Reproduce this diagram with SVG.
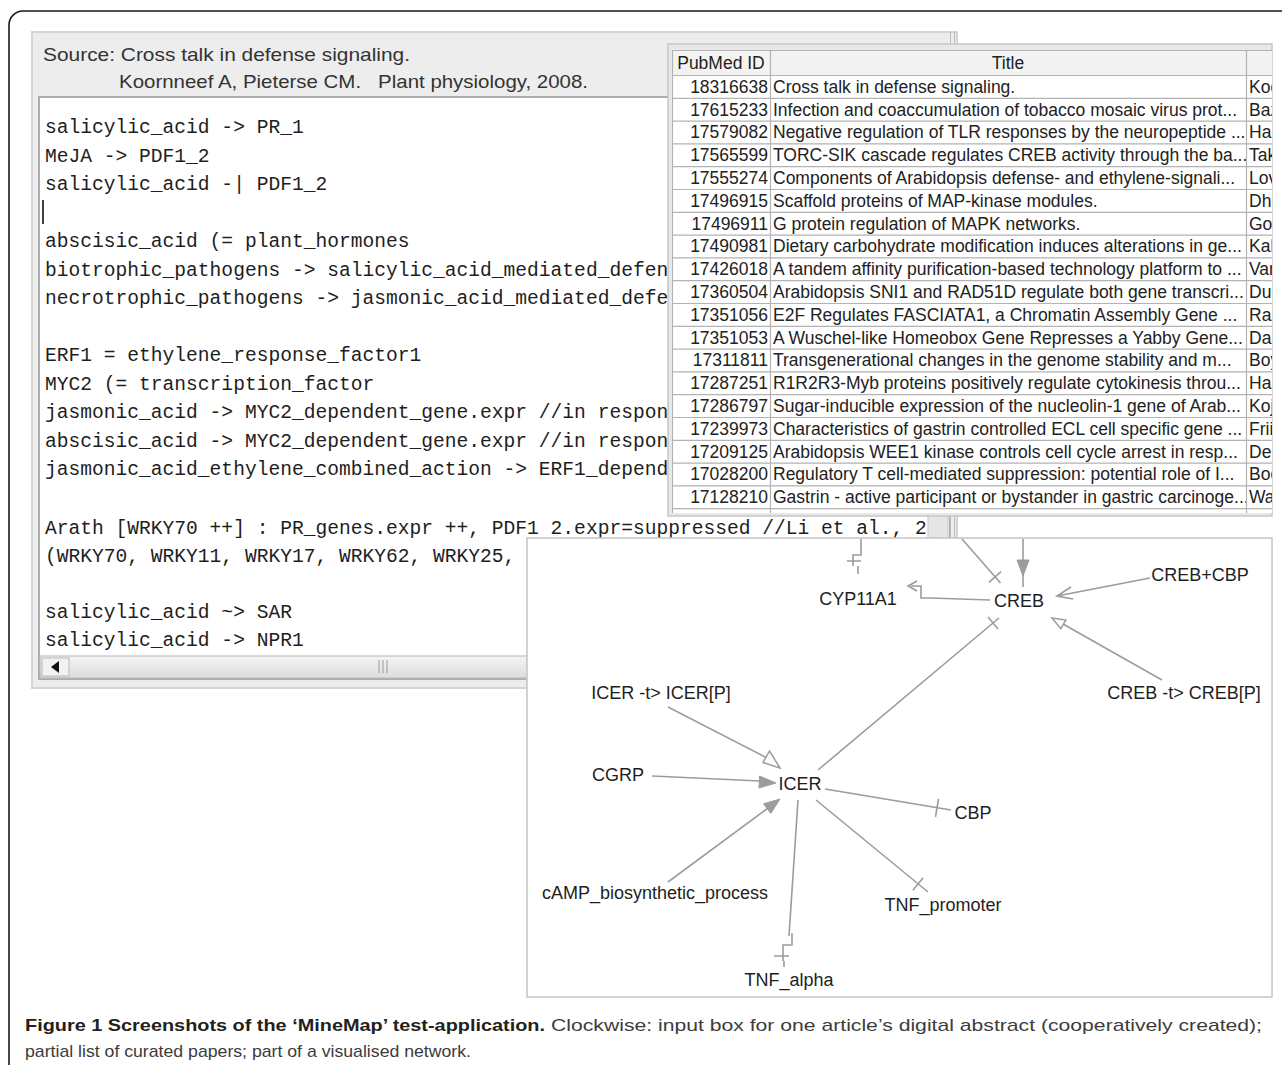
<svg xmlns="http://www.w3.org/2000/svg" width="1282" height="1065" viewBox="0 0 1282 1065">
<style>
.hdr{font-family:"Liberation Sans",Arial,sans-serif;font-size:18.5px;fill:#333}
.code{font-family:"Liberation Mono","Courier New",monospace;font-size:19.6px;fill:#1e1e1e}
.tb{font-family:"Liberation Sans",Arial,sans-serif;font-size:17.5px;fill:#222}
.id{text-anchor:end}
.gl{stroke:#b3b3b3;stroke-width:1.2}
.lbl{font-family:"Liberation Sans",Arial,sans-serif;font-size:18px;fill:#1e1e1e;text-anchor:middle}
.e{fill:none;stroke:#9c9c9c;stroke-width:1.6}
.fa{fill:#9c9c9c;stroke:#9c9c9c;stroke-width:1}
.oa{fill:#fff;stroke:#9c9c9c;stroke-width:1.5}
.capb{font-family:"Liberation Sans",Arial,sans-serif;font-size:17px;font-weight:bold;fill:#231f20}
.capr{font-family:"Liberation Sans",Arial,sans-serif;font-size:17px;fill:#3c3c3c}
</style>
<defs>
<clipPath id="ta"><rect x="40" y="99" width="888" height="556"/></clipPath>
<clipPath id="tbl"><rect x="672" y="50" width="600" height="463"/></clipPath>
<clipPath id="c2"><rect x="771" y="50" width="475" height="463"/></clipPath>
<linearGradient id="sb" x1="0" y1="0" x2="0" y2="1"><stop offset="0" stop-color="#f4f4f4"/><stop offset="1" stop-color="#dcdcdc"/></linearGradient>
</defs>
<rect width="1282" height="1065" fill="#fff"/>

<!-- outer figure border -->
<path d="M9,1065 V25 A14,14 0 0 1 23,11 H1282" fill="none" stroke="#1a1a1a" stroke-width="1.6"/>

<!-- left editor window -->
<g id="editor">
<rect x="32" y="32" width="925" height="656" fill="#ededed" stroke="#d4d4d4" stroke-width="2"/>
<text class="hdr" x="43" y="61" textLength="367" lengthAdjust="spacingAndGlyphs">Source: Cross talk in defense signaling.</text>
<text class="hdr" x="119" y="88" textLength="469" lengthAdjust="spacingAndGlyphs" xml:space="preserve">Koornneef A, Pieterse CM.   Plant physiology, 2008.</text>
<rect x="39" y="97" width="911" height="582" fill="#fff" stroke="#9a9a9a" stroke-width="1.6"/>
<rect x="928" y="99" width="20" height="557" fill="#e6e6e6" stroke="#c4c4c4" stroke-width="1"/>
<line x1="950.5" y1="32" x2="950.5" y2="688" stroke="#bdbdbd" stroke-width="1"/>
<line x1="954.5" y1="32" x2="954.5" y2="688" stroke="#bdbdbd" stroke-width="1"/>
<g clip-path="url(#ta)">
<text class="code" x="45" y="133">salicylic_acid -&gt; PR_1</text>
<text class="code" x="45" y="161.5">MeJA -&gt; PDF1_2</text>
<text class="code" x="45" y="190">salicylic_acid -| PDF1_2</text>
<line x1="43" y1="200" x2="43" y2="224" stroke="#111" stroke-width="1.6"/>
<text class="code" x="45" y="247">abscisic_acid (= plant_hormones</text>
<text class="code" x="45" y="275.5">biotrophic_pathogens -&gt; salicylic_acid_mediated_defen</text>
<text class="code" x="45" y="304">necrotrophic_pathogens -&gt; jasmonic_acid_mediated_defe</text>
<text class="code" x="45" y="361">ERF1 = ethylene_response_factor1</text>
<text class="code" x="45" y="389.5">MYC2 (= transcription_factor</text>
<text class="code" x="45" y="418">jasmonic_acid -&gt; MYC2_dependent_gene.expr //in respon</text>
<text class="code" x="45" y="446.5">abscisic_acid -&gt; MYC2_dependent_gene.expr //in respon</text>
<text class="code" x="45" y="475">jasmonic_acid_ethylene_combined_action -&gt; ERF1_depend</text>
<text class="code" x="45" y="534">Arath [WRKY70 ++] : PR_genes.expr ++, PDF1 2.expr=suppressed //Li et al., 2</text>
<text class="code" x="45" y="561.5">(WRKY70, WRKY11, WRKY17, WRKY62, WRKY25,</text>
<text class="code" x="45" y="617.5">salicylic_acid ~&gt; SAR</text>
<text class="code" x="45" y="646">salicylic_acid -&gt; NPR1</text>
</g>
<rect x="40" y="656" width="888" height="22" fill="url(#sb)" stroke="#b8b8b8" stroke-width="1"/>
<rect x="42" y="658" width="27" height="18" fill="#f2f2f2" stroke="#b8b8b8" stroke-width="1"/>
<path d="M51,667 L59,661 L59,673 Z" fill="#111"/>
<path d="M379,660 V673 M383,660 V673 M387,660 V673" stroke="#9a9a9a" stroke-width="1"/>
</g>

<!-- papers table window -->
<g id="papers">
<rect x="668" y="44" width="604" height="472" fill="#e8e8e8" stroke="#c6c6c6" stroke-width="1.5"/>
<rect x="672" y="50" width="600" height="463" fill="#fff"/>
<rect x="672" y="50" width="600" height="25.5" fill="#f3f3f3"/>
<g clip-path="url(#tbl)">
<path class="gl" d="M672,50.5 H1272 M672,75.5 H1272 M672,98.3 H1272 M672,121.1 H1272 M672,143.9 H1272 M672,166.7 H1272 M672,189.5 H1272 M672,212.3 H1272 M672,235.1 H1272 M672,257.9 H1272 M672,280.7 H1272 M672,303.5 H1272 M672,326.3 H1272 M672,349.1 H1272 M672,371.9 H1272 M672,394.7 H1272 M672,417.5 H1272 M672,440.3 H1272 M672,463.1 H1272 M672,485.9 H1272 M672,508.7 H1272 M672.5,50 V516 M770.5,50 V516 M1246.5,50 V516"/>
<text class="tb" x="721" y="69" text-anchor="middle">PubMed ID</text>
<text class="tb" x="1008" y="69" text-anchor="middle">Title</text>
<g class="tb id">
<text x="768" y="92.8">18316638</text>
<text x="768" y="115.6">17615233</text>
<text x="768" y="138.4">17579082</text>
<text x="768" y="161.2">17565599</text>
<text x="768" y="184">17555274</text>
<text x="768" y="206.8">17496915</text>
<text x="768" y="229.6">17496911</text>
<text x="768" y="252.4">17490981</text>
<text x="768" y="275.2">17426018</text>
<text x="768" y="298">17360504</text>
<text x="768" y="320.8">17351056</text>
<text x="768" y="343.6">17351053</text>
<text x="768" y="366.4">17311811</text>
<text x="768" y="389.2">17287251</text>
<text x="768" y="412">17286797</text>
<text x="768" y="434.8">17239973</text>
<text x="768" y="457.6">17209125</text>
<text x="768" y="480.4">17028200</text>
<text x="768" y="503.2">17128210</text>
</g>
<g class="tb" clip-path="url(#c2)">
<text x="773" y="92.8">Cross talk in defense signaling.</text>
<text x="773" y="115.6">Infection and coaccumulation of tobacco mosaic virus prot...</text>
<text x="773" y="138.4">Negative regulation of TLR responses by the neuropeptide ...</text>
<text x="773" y="161.2">TORC-SIK cascade regulates CREB activity through the ba...</text>
<text x="773" y="184">Components of Arabidopsis defense- and ethylene-signali...</text>
<text x="773" y="206.8">Scaffold proteins of MAP-kinase modules.</text>
<text x="773" y="229.6">G protein regulation of MAPK networks.</text>
<text x="773" y="252.4">Dietary carbohydrate modification induces alterations in ge...</text>
<text x="773" y="275.2">A tandem affinity purification-based technology platform to ...</text>
<text x="773" y="298">Arabidopsis SNI1 and RAD51D regulate both gene transcri...</text>
<text x="773" y="320.8">E2F Regulates FASCIATA1, a Chromatin Assembly Gene ...</text>
<text x="773" y="343.6">A Wuschel-like Homeobox Gene Represses a Yabby Gene...</text>
<text x="773" y="366.4">Transgenerational changes in the genome stability and m...</text>
<text x="773" y="389.2">R1R2R3-Myb proteins positively regulate cytokinesis throu...</text>
<text x="773" y="412">Sugar-inducible expression of the nucleolin-1 gene of Arab...</text>
<text x="773" y="434.8">Characteristics of gastrin controlled ECL cell specific gene ...</text>
<text x="773" y="457.6">Arabidopsis WEE1 kinase controls cell cycle arrest in resp...</text>
<text x="773" y="480.4">Regulatory T cell-mediated suppression: potential role of I...</text>
<text x="773" y="503.2">Gastrin - active participant or bystander in gastric carcinoge...</text>
</g>
<g class="tb">
<text x="1249" y="92.8">Koo</text>
<text x="1249" y="115.6">Baz</text>
<text x="1249" y="138.4">Ha</text>
<text x="1249" y="161.2">Tak</text>
<text x="1249" y="184">Lov</text>
<text x="1249" y="206.8">Dh</text>
<text x="1249" y="229.6">Go</text>
<text x="1249" y="252.4">Kal</text>
<text x="1249" y="275.2">Var</text>
<text x="1249" y="298">Du</text>
<text x="1249" y="320.8">Ra</text>
<text x="1249" y="343.6">Da</text>
<text x="1249" y="366.4">Boy</text>
<text x="1249" y="389.2">Ha</text>
<text x="1249" y="412">Koj</text>
<text x="1249" y="434.8">Frii</text>
<text x="1249" y="457.6">De</text>
<text x="1249" y="480.4">Boc</text>
<text x="1249" y="503.2">Wa</text>
</g>
</g>
</g>

<!-- network panel -->
<rect id="network-panel" x="527" y="538" width="745" height="459" fill="#fff" stroke="#c4c4c4" stroke-width="1.5"/>

<g id="connectors">
<!-- top -> CYP11A1 (zigzag) -->
<path class="e" d="M861,539 V555 H853 V566 M847,561 H861 M858,566 V574"/>
<!-- CREB -> CYP11A1 -->
<path class="e" d="M990,600 L930,598 H921 V586 H911 M917,581 L908,586 L917,591"/>
<!-- top -> CREB (X) -->
<path class="e" d="M962,539 L1000.5,583 M989,582.3 L1001,571.7"/>
<!-- top -> CREB (filled arrow) -->
<path class="e" d="M1023,539 V587"/>
<path class="fa" d="M1017,560 L1029,560 L1023,576 Z"/>
<!-- CREB+CBP -> CREB -->
<path class="e" d="M1150,578 L1057,596 M1071,587 L1057,596 L1073,599"/>
<!-- CREB -t> CREB[P] -> CREB -->
<path class="e" d="M1162,680 L1063,624"/>
<path class="oa" d="M1052,618 L1065.8,620 L1060.9,628.7 Z"/>
<!-- ICER -> CREB (X) -->
<path class="e" d="M818,770 L999,618 M988,617 L998,629"/>
<!-- ICER -t> ICER[P] -> ICER -->
<path class="e" d="M668,707 L767,758"/>
<path class="oa" d="M780,768 L763,762.5 L769.5,751 Z"/>
<!-- CGRP -> ICER -->
<path class="e" d="M652,776 L760,781"/>
<path class="fa" d="M776,783 L759.5,776 L759,788 Z"/>
<!-- cAMP -> ICER -->
<path class="e" d="M668,882 L768,808"/>
<path class="fa" d="M780,799 L770.8,813.4 L763.6,803.8 Z"/>
<!-- ICER -> CBP -->
<path class="e" d="M825,789 L951,810 M938.5,798.9 L935.5,816.9"/>
<!-- ICER -> TNF_promoter -->
<path class="e" d="M816,800 L928,892 M912.9,890.2 L923.1,877.8"/>
<!-- ICER -> TNF_alpha (zigzag) -->
<path class="e" d="M798,800 L789,936 M792,933 V945 H783 V961 M774,956 H789 M784,961 V967"/>
</g>

<g id="n-cyp11a1"><text class="lbl" x="858" y="605">CYP11A1</text></g>
<g id="n-creb"><text class="lbl" x="1019" y="607">CREB</text></g>
<g id="n-creb-cbp"><text class="lbl" x="1200" y="581">CREB+CBP</text></g>
<g id="n-creb-p"><text class="lbl" x="1184" y="699">CREB -t&gt; CREB[P]</text></g>
<g id="n-icer-p"><text class="lbl" x="661" y="699">ICER -t&gt; ICER[P]</text></g>
<g id="n-cgrp"><text class="lbl" x="618" y="781">CGRP</text></g>
<g id="n-icer"><text class="lbl" x="800" y="790">ICER</text></g>
<g id="n-cbp"><text class="lbl" x="973" y="819">CBP</text></g>
<g id="n-camp"><text class="lbl" x="655" y="899">cAMP_biosynthetic_process</text></g>
<g id="n-tnf-promoter"><text class="lbl" x="943" y="911">TNF_promoter</text></g>
<g id="n-tnf-alpha"><text class="lbl" x="789" y="986">TNF_alpha</text></g>

<!-- caption -->
<g id="caption">
<text class="capb" x="25" y="1031" textLength="520" lengthAdjust="spacingAndGlyphs">Figure 1 Screenshots of the ‘MineMap’ test-application.</text>
<text class="capr" x="551" y="1031" textLength="711" lengthAdjust="spacingAndGlyphs">Clockwise: input box for one article’s digital abstract (cooperatively created);</text>
<text class="capr" x="25" y="1057" textLength="446" lengthAdjust="spacingAndGlyphs">partial list of curated papers; part of a visualised network.</text>
</g>
</svg>
